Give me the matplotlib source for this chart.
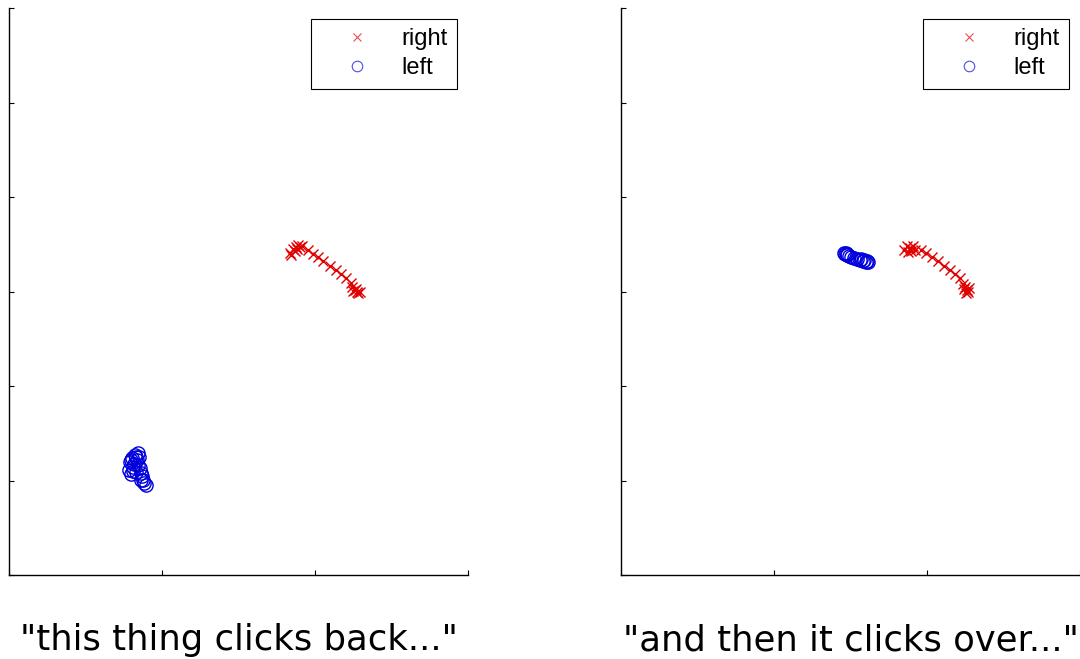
import matplotlib
matplotlib.use("Agg")
import matplotlib.pyplot as plt

# panel 1: "this thing clicks back..."
p1_right_x = [1.837, 1.856, 1.876, 1.889, 1.902, 1.915, 1.869, 1.843, 1.880,
              1.954, 1.987, 2.020, 2.052, 2.098, 2.137, 2.170, 2.203, 2.235,
              2.242, 2.261, 2.275, 2.281, 2.294, 2.268, 2.248]
p1_right_y = [3.41, 3.45, 3.47, 3.49, 3.47, 3.48, 3.43, 3.39, 3.45,
              3.44, 3.40, 3.36, 3.32, 3.27, 3.23, 3.19, 3.14, 3.09,
              3.05, 3.02, 3.00, 2.98, 2.99, 3.03, 3.01]
p1_left_x = [0.791, 0.804, 0.824, 0.843, 0.837, 0.810, 0.784, 0.797,
             0.830, 0.856, 0.869, 0.863, 0.882, 0.895, 0.850,
             0.818, 0.845, 0.800, 0.860, 0.875, 0.828, 0.812]
p1_left_y = [1.193, 1.236, 1.267, 1.288, 1.214, 1.140, 1.109, 1.067,
             1.088, 1.130, 1.045, 1.003, 0.971, 0.950, 1.246,
             1.175, 1.160, 1.215, 1.080, 1.010, 1.250, 1.100]

# panel 2: "and then it clicks over..."
p2_right_x = [1.851, 1.870, 1.890, 1.909, 1.922, 1.877, 1.896,
              1.961, 1.994, 2.032, 2.071, 2.110, 2.149, 2.182, 2.214,
              2.234, 2.247, 2.260, 2.266, 2.253, 2.240, 2.273]
p2_right_y = [3.44, 3.48, 3.46, 3.48, 3.44, 3.42, 3.43,
              3.44, 3.41, 3.36, 3.32, 3.27, 3.23, 3.19, 3.14,
              3.08, 3.05, 3.02, 3.00, 2.98, 3.03, 3.04]
p2_left_x = [1.461, 1.474, 1.487, 1.506, 1.526, 1.545, 1.565, 1.584,
             1.604, 1.617, 1.591, 1.571, 1.468, 1.455, 1.480, 1.610]
p2_left_y = [3.40, 3.39, 3.38, 3.36, 3.35, 3.34, 3.33, 3.32,
             3.31, 3.31, 3.33, 3.34, 3.41, 3.41, 3.40, 3.32]

titles = ['"this thing clicks back..."', '"and then it clicks over..."']
labels = ["right", "left"]

RED = "#e00000"
BLUE = "#0000dd"

fig = plt.figure(figsize=(10.8, 6.59), dpi=100)
ax1 = fig.add_axes([9 / 1080, 84 / 659, 459 / 1080, 567 / 659])
ax2 = fig.add_axes([621 / 1080, 84 / 659, 459 / 1080, 567 / 659])

panels = [(ax1, p1_right_x, p1_right_y, p1_left_x, p1_left_y),
          (ax2, p2_right_x, p2_right_y, p2_left_x, p2_left_y)]

for (ax, rx, ry, lx, ly), title in zip(panels, titles):
    ax.plot(rx, ry, linestyle="none", marker="x", color=RED,
            markersize=7.5, markeredgewidth=1.0, label=labels[0])
    ax.plot(lx, ly, linestyle="none", marker="o", markerfacecolor="none",
            markeredgecolor=BLUE, markersize=9.5, markeredgewidth=1.0,
            label=labels[1])
    ax.set_xlim(0, 3)
    ax.set_ylim(0, 6)
    ax.set_xticks([0, 1, 2, 3])
    ax.set_yticks([0, 1, 2, 3, 4, 5, 6])
    ax.tick_params(direction="in", length=3.5, width=0.8,
                   labelbottom=False, labelleft=False)
    ax.spines["top"].set_visible(False)
    ax.spines["right"].set_visible(False)
    for s in ("left", "bottom"):
        ax.spines[s].set_linewidth(1.0)
    leg = ax.legend(loc="upper right", prop={"family": "Liberation Sans", "size": 17},
                    fancybox=False, framealpha=1, edgecolor="black",
                    borderpad=0.4, labelspacing=0.3, handlelength=3.1,
                    handletextpad=0.35, borderaxespad=0.45, markerscale=0.8)
    leg.get_frame().set_linewidth(0.8)
    for h in leg.legend_handles:
        h.set_alpha(0.7)
        h.set_markeredgewidth(0.8)
    ax.text(0.5, -0.115, title, transform=ax.transAxes, ha="center",
            va="center", fontsize=25.5, family="DejaVu Sans", clip_on=False)

fig.savefig("out.png", dpi=100)
